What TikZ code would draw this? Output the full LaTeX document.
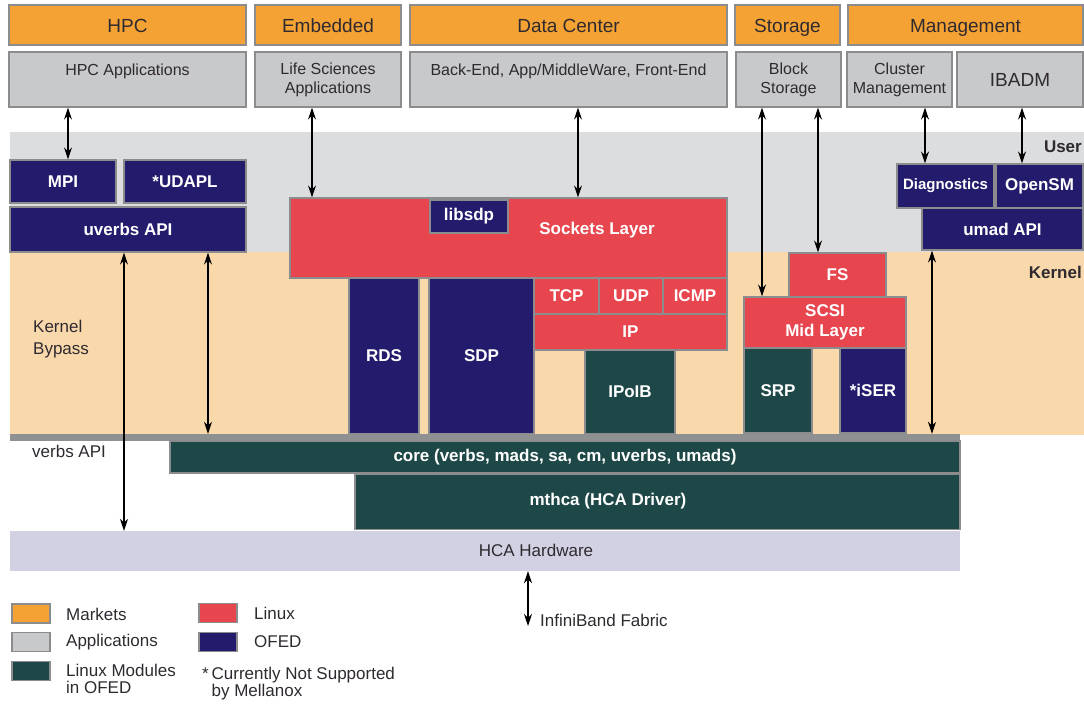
\documentclass[tikz,border=0pt]{standalone}
\usepackage{fontspec}
\setmainfont{Liberation Sans}
\usepackage{tikz}
\usetikzlibrary{positioning}
\usetikzlibrary{arrows.meta}
\pgfdeclarelayer{nodelayer}
\pgfdeclarelayer{edgelayer}
\pgfsetlayers{main,nodelayer,edgelayer}
\definecolor{mkt}{HTML}{F5A234}
\definecolor{appl}{HTML}{C8C9CB}
\definecolor{edge}{HTML}{8C8C8E}
\definecolor{ofed}{HTML}{231C6C}
\definecolor{linux}{HTML}{E7464F}
\definecolor{mods}{HTML}{1E4847}
\definecolor{userbg}{HTML}{DCDDDF}
\definecolor{kernbg}{HTML}{F9D8AC}
\definecolor{hwbg}{HTML}{D2D1E3}
\definecolor{strip}{HTML}{8F9092}
\definecolor{ink}{HTML}{2E2A30}
\tikzset{
    none/.style = {inner sep=0pt},
    blk/.style = {draw=edge, line width=1.2pt, inner sep=0pt, align=center},
    market/.style = {blk, fill=mkt, text=ink, minimum height=40pt,
        text height=16pt, text depth=1.5pt, font=\fontsize{19}{22}\selectfont},
    app/.style = {blk, fill=appl, text=ink, minimum height=55pt,
        font=\fontsize{16}{19}\selectfont},
    ofed/.style = {blk, fill=ofed, text=white, font=\fontsize{17}{20}\selectfont\bfseries},
    linux/.style = {blk, fill=linux, text=white, font=\fontsize{17}{20}\selectfont\bfseries},
    mods/.style = {blk, fill=mods, text=white, font=\fontsize{17}{20}\selectfont\bfseries},
    hw/.style = {inner sep=0pt, fill=hwbg},
    swatch/.style = {draw=edge, line width=1.2pt, inner sep=0pt,
        minimum width=38pt, minimum height=19pt},
    legtext/.style = {none, anchor=west, align=left, text=ink,
        font=\fontsize{17}{17}\selectfont},
    dbl/.style = {{Stealth[length=12pt,width=8pt]}-{Stealth[length=12pt,width=8pt]},
        line width=1.3pt}
}

\begin{document}
\begin{tikzpicture}[x=1pt, y=-1pt]
  \useasboundingbox (0,0) rectangle (1084,709);
  % user / kernel bands
  \fill[userbg] (10,132) rectangle (1084,252);
  \fill[kernbg] (10,252) rectangle (1084,435);

  \begin{pgfonlayer}{nodelayer}
    % markets
    \node [market, minimum width=237pt] (hpc) at (127.5,25) {HPC};
    \node [market, minimum width=146pt] (emb) at (328,25) {Embedded};
    \node [market, minimum width=317pt] (dc) at (568.5,25) {Data Center};
    \node [market, minimum width=105pt] (stor) at (787.5,25) {Storage};
    \node [market, minimum width=235pt] (mgmt) at (965.5,25) {Management};
    % applications
    \node [app, minimum width=237pt] (hpcapp) at (127.5,79.5) {HPC Applications\\ \mbox{}};
    \node [app, minimum width=146pt] (lifesci) at (328,79.5) {Life Sciences\\Applications};
    \node [app, minimum width=317pt] (backend) at (568.5,79.5) {Back-End, App/MiddleWare, Front-End\\ \mbox{}};
    \node [app, minimum width=105pt] (block) at (788.5,79.5) {Block\\Storage};
    \node [app, minimum width=105pt] (cluster) at (899.5,79.5) {Cluster\\Management};
    \node [app, minimum width=126pt, font=\fontsize{19}{22}\selectfont] (ibadm) at (1020,79.5) {IBADM};

    \node [none, anchor=east, text=ink, font=\fontsize{17}{20}\selectfont\bfseries] (user) at (1082,147) {User};
    \node [none, anchor=east, text=ink, font=\fontsize{17}{20}\selectfont\bfseries] (kernel) at (1082,272) {Kernel};
    \node [legtext, font=\fontsize{17}{22}\selectfont] (bypass) at (33,339) {Kernel\\Bypass};

    % user space
    \node [ofed, minimum width=106pt, minimum height=43pt] (mpi) at (63,181.5) {MPI};
    \node [ofed, minimum width=122pt, minimum height=43pt] (udapl) at (185,181.5) {*UDAPL};
    \node [ofed, minimum width=236pt, minimum height=45pt] (uverbs) at (128,229.5) {uverbs API};
    \node [ofed, minimum width=97pt, minimum height=44pt, font=\fontsize{15}{18}\selectfont\bfseries] (diag) at (945.5,186) {Diagnostics};
    \node [ofed, minimum width=87pt, minimum height=44pt] (opensm) at (1039.5,186) {OpenSM};
    \node [ofed, minimum width=161pt, minimum height=42pt] (umad) at (1002.5,229) {umad API};

    % sockets and kernel modules
    \node [linux, minimum width=437pt, minimum height=80pt] (sockets) at (508.5,238) {};
    \node [none, text=white, font=\fontsize{17}{20}\selectfont\bfseries] (socktxt) at (597,230) {Sockets Layer};
    \node [ofed, minimum width=78pt, minimum height=33pt] (libsdp) at (469,216.5) {libsdp};
    \node [ofed, minimum width=70pt, minimum height=156pt] (rds) at (384,356) {RDS};
    \node [ofed, minimum width=105pt, minimum height=156pt] (sdp) at (481.5,356) {SDP};
    \node [linux, minimum width=65pt, minimum height=36pt] (tcp) at (566.5,296) {TCP};
    \node [linux, minimum width=64pt, minimum height=36pt] (udp) at (631,296) {UDP};
    \node [linux, minimum width=64pt, minimum height=36pt] (icmp) at (695,296) {ICMP};
    \node [linux, minimum width=193pt, minimum height=36pt] (ip) at (630.5,332) {IP};
    \node [mods, minimum width=90pt, minimum height=84pt] (ipoib) at (630,392) {IPoIB};
    \node [linux, minimum width=97pt, minimum height=44pt] (fs) at (837.5,275) {FS};
    \node [linux, minimum width=162pt, minimum height=51pt] (scsi) at (825,322.5) {SCSI\\Mid Layer};
    \node [mods, minimum width=68pt, minimum height=85pt] (srp) at (778,390.5) {SRP};
    \node [ofed, minimum width=66pt, minimum height=85pt] (iser) at (873,390.5) {*iSER};

    % verbs, core, driver, hardware
    \node [none, fill=strip, minimum width=950pt, minimum height=7pt] (verbsbar) at (485,437.5) {};
    \node [legtext] (verbs) at (32,451) {verbs API};
    \node [mods, minimum width=790pt, minimum height=32pt] (core) at (565,457) {core (verbs, mads, sa, cm, uverbs, umads)};
    \node [mods, minimum width=605pt, minimum height=55pt] (mthca) at (657.5,502) {};
    \node [none, text=white, font=\fontsize{17}{20}\selectfont\bfseries] (mthcatxt) at (608,501) {mthca (HCA Driver)};
    \node [hw, minimum width=950pt, minimum height=40pt] (hca) at (485,551) {};
    \node [none, text=ink, font=\fontsize{17}{20}\selectfont] (hcatxt) at (536,550) {HCA Hardware};
    \coordinate (ibf) at (528,626);
    \node [legtext] (ibftxt) at (540,620) {InfiniBand Fabric};

    % legend
    \node [swatch, fill=mkt] (lmkt) at (31,613.5) {};
    \node [legtext] (lmkttxt) at (66,614) {Markets};
    \node [swatch, fill=appl] (lapp) at (31,642) {};
    \node [legtext] (lapptxt) at (66,642) {Applications};
    \node [swatch, fill=mods] (lmod) at (31,671) {};
    \node [legtext] (lmodtxt) at (66,679) {Linux Modules\\in OFED};
    \node [swatch, fill=linux] (llin) at (218,613) {};
    \node [legtext] (llintxt) at (254,613) {Linux};
    \node [swatch, fill=ofed] (lofed) at (218,642) {};
    \node [legtext] (lofedtxt) at (254,642) {OFED};
    \node [legtext] (note) at (202,684) {*\,Currently Not Supported\\\phantom{*\,}by Mellanox};
  \end{pgfonlayer}

  \begin{pgfonlayer}{edgelayer}
    \draw [dbl] ([xshift=-59.5pt]hpcapp.south) to ([xshift=-59.5pt]hpcapp.south |- mpi.north);
    \draw [dbl] ([xshift=-16pt]lifesci.south) to ([xshift=-16pt]lifesci.south |- sockets.north);
    \draw [dbl] ([xshift=9.5pt]backend.south) to ([xshift=9.5pt]backend.south |- sockets.north);
    \draw [dbl] ([xshift=-26.5pt]block.south) to ([xshift=-26.5pt]block.south |- scsi.north);
    \draw [dbl] ([xshift=29.5pt]block.south) to ([xshift=29.5pt]block.south |- fs.north);
    \draw [dbl] ([xshift=25.5pt]cluster.south) to ([xshift=25.5pt]cluster.south |- diag.north);
    \draw [dbl] ([xshift=2pt]ibadm.south) to ([xshift=2pt]ibadm.south |- opensm.north);
    \draw [dbl] ([xshift=-4pt]uverbs.south) to ([xshift=-4pt]uverbs.south |- hca.north);
    \draw [dbl] ([xshift=80pt]uverbs.south) to ([xshift=80pt]uverbs.south |- verbsbar.north);
    \draw [dbl] ([xshift=-70.5pt]umad.south) to ([xshift=-70.5pt]umad.south |- verbsbar.north);
    \draw [dbl] (hca.south -| ibf) to (ibf);
  \end{pgfonlayer}
\end{tikzpicture}
\end{document}
